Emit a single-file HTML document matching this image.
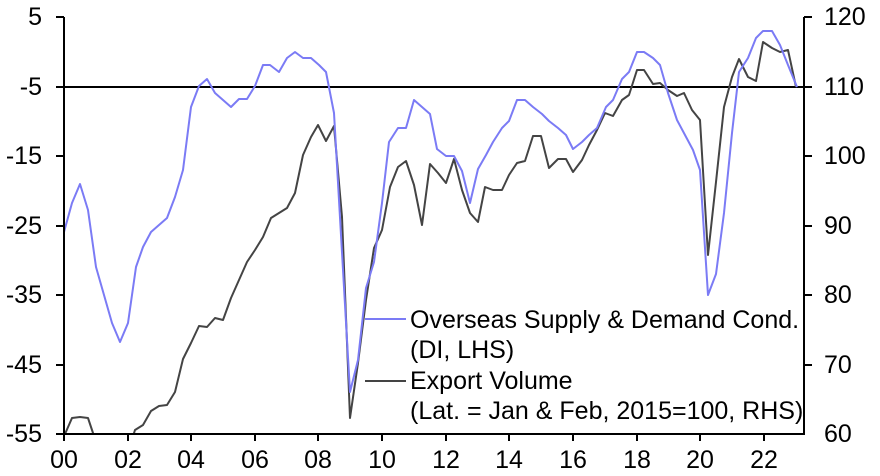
<!DOCTYPE html>
<html><head><meta charset="utf-8"><style>
html,body{margin:0;padding:0;background:#fff;}
svg{display:block;font-family:"Liberation Sans",sans-serif;}
</style></head><body>
<svg width="880" height="476" viewBox="0 0 880 476">
<defs><clipPath id="c"><rect x="64" y="10" width="741" height="424"/></clipPath></defs>
<line x1="64" y1="87" x2="804" y2="87" stroke="#000" stroke-width="2"/>
<g clip-path="url(#c)" fill="none" stroke-width="2" stroke-linejoin="round">
<polyline stroke="#444" points="65,434 72,418 80,417 88,418 93,433 100,452 128,452 135,430 143,425 151,411 159,406 167,405 175,392 183,359 191,343 199,326 207,327 215,318 223,320 231,298 239,280 247,262 255,250 263,237 271,218 279,213 287,208 295,193 303,155 311,137 318,125 326,141 334,126 342,217 350,418 358,363 366,300 374,248 382,230 390,187 398,167 406,161 414,185 422,225 430,164 438,173 446,183 454,159 462,190 470,213 478,222 485,187 493,190 502,190 509,175 517,163 525,161 533,136 541,136 549,168 558,159 566,159 573,172 582,160 589,145 597,130 605,113 613,116 622,100 629,95 637,70 644,70 653,84 660,83 668,90 677,96 684,93 692,110 700,120 708,255 716,182 724,107 732,77 739,59 748,77 756,81 763,42 772,48 780,52 788,50 796,87"/>
<polyline stroke="#7b7bf5" points="64,232 72,203 80,184 88,210 96,267 104,295 112,323 120,342 128,323 136,267 143,247 151,232 159,225 167,218 175,197 183,170 191,107 199,86 207,79 215,93 223,100 231,107 239,99 247,99 255,86 263,65 270,65 279,72 287,58 295,52 303,58 311,58 319,65 326,72 334,113 350,392 358,360 366,288 374,262 382,203 389,142 398,128 406,128 414,100 422,107 430,114 437,149 446,156 454,156 462,171 470,203 478,169 486,155 493,142 502,128 509,121 517,100 525,100 533,107 542,114 549,121 558,128 566,135 573,149 582,142 589,135 597,128 606,107 613,100 622,79 629,72 637,52 644,52 653,58 660,65 668,93 677,120 685,135 693,150 700,170 708,295 716,274 724,213 732,133 739,72 748,58 756,38 763,31 772,31 780,45 788,65 797,87"/>
</g>
<g stroke="#000" stroke-width="2" fill="none">
<polyline points="64,17 64,434 804,434 804,17"/>
<path d="M56,17H64M56,87H64M56,156H64M56,226H64M56,295H64M56,365H64M56,434H64"/>
<path d="M804,17H812M804,87H812M804,156H812M804,226H812M804,295H812M804,365H812"/>
<path d="M64,434v7M128,434v7M191,434v7M255,434v7M318,434v7M382,434v7M446,434v7M509,434v7M573,434v7M637,434v7M700,434v7M764,434v7"/>
</g>
<g font-size="25" fill="#000" text-anchor="end">
<text x="42" y="25">5</text><text x="42" y="95">-5</text><text x="42" y="164">-15</text><text x="42" y="234">-25</text><text x="42" y="303">-35</text><text x="42" y="373">-45</text><text x="42" y="442">-55</text>
</g>
<g font-size="25" fill="#000">
<text x="824" y="25">120</text><text x="824" y="95">110</text><text x="824" y="164">100</text><text x="824" y="234">90</text><text x="824" y="303">80</text><text x="824" y="373">70</text><text x="824" y="442">60</text>
</g>
<g font-size="25" fill="#000" text-anchor="middle">
<text x="64" y="468">00</text><text x="128" y="468">02</text><text x="191" y="468">04</text><text x="255" y="468">06</text><text x="318" y="468">08</text><text x="382" y="468">10</text><text x="446" y="468">12</text><text x="509" y="468">14</text><text x="573" y="468">16</text><text x="637" y="468">18</text><text x="700" y="468">20</text><text x="764" y="468">22</text>
</g>
<line x1="365" y1="319" x2="406" y2="319" stroke="#7b7bf5" stroke-width="2"/>
<line x1="365" y1="381" x2="406" y2="381" stroke="#444" stroke-width="2"/>
<g font-size="25" fill="#000">
<text x="410" y="328">Overseas Supply &amp; Demand Cond.</text>
<text x="410" y="358">(DI, LHS)</text>
<text x="410" y="389">Export Volume</text>
<text x="410" y="419">(Lat. = Jan &amp; Feb, 2015=100, RHS)</text>
</g>
</svg>
</body></html>
